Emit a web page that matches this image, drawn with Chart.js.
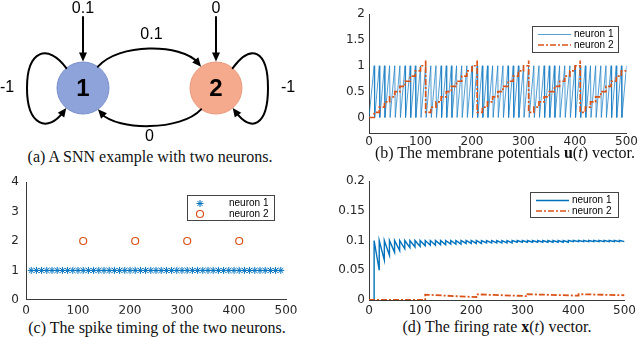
<!DOCTYPE html>
<html>
<head>
<meta charset="utf-8">
<script src="https://cdn.jsdelivr.net/npm/chart.js@4.4.1/dist/chart.umd.min.js"></script>
<style>
  body { margin: 0; background: #fff; }
  #fig { position: relative; width: 640px; height: 337px; overflow: hidden; }
  canvas { position: absolute; }
  .cap { position: absolute; width: 320px; text-align: center; white-space: nowrap;
         font-family: "Liberation Serif", serif; font-size: 16px; line-height: 18px; color: #111; }
</style>
</head>
<body>
<div id="fig">
  <canvas id="diagram" width="320" height="146" style="left:0;top:0"></canvas>
  <canvas id="membrane" width="320" height="146" style="left:320px;top:0"></canvas>
  <canvas id="spikes" width="320" height="146" style="left:0;top:168px"></canvas>
  <canvas id="rate" width="320" height="146" style="left:320px;top:168px"></canvas>
  <div class="cap" style="left:-10px;top:148px">(a) A SNN example with two neurons.</div>
  <div class="cap" style="left:345px;top:144px">(b) The membrane potentials <b>u</b>(<i>t</i>) vector.</div>
  <div class="cap" style="left:-3px;top:319px">(c) The spike timing of the two neurons.</div>
  <div class="cap" style="left:337px;top:318px">(d) The firing rate <b>x</b>(<i>t</i>) vector.</div>
</div>
<script>
// ---- data ----
// diagram (a)
const nodeLabels = ["1", "2"];
const nodeX = [1, 2];
const nodeColors = ["#8fa3db", "#f5a98d"];
const inputWeights = ["0.1", "0"];
const edgeWeights = { w12: "0.1", w21: "0", w11: "-1", w22: "-1" };

// spike times (c)
const neuron1Spikes = [10, 20, 30, 40, 50, 60, 70, 80, 90, 100, 110, 120, 130, 140, 150, 160, 170, 180, 190, 200,
  210, 220, 230, 240, 250, 260, 270, 280, 290, 300, 310, 320, 330, 340, 350, 360, 370, 380, 390, 400,
  410, 420, 430, 440, 450, 460, 470, 480, 490];
const neuron2Spikes = [110, 210, 310, 410];

// membrane potentials (b)
const u1Reset = 0;
const u1Peak = 1;
const neuron2Potential = [
  [0, 0], [10, 0.1], [20, 0.2], [30, 0.3], [40, 0.4], [50, 0.5], [60, 0.6], [70, 0.7], [80, 0.8], [90, 0.9], [100, 1], [110, 1.1],
  [110, 0.1], [120, 0.2], [130, 0.3], [140, 0.4], [150, 0.5], [160, 0.6], [170, 0.7], [180, 0.8], [190, 0.9], [200, 1], [210, 1.1],
  [210, 0.1], [220, 0.2], [230, 0.3], [240, 0.4], [250, 0.5], [260, 0.6], [270, 0.7], [280, 0.8], [290, 0.9], [300, 1], [310, 1.1],
  [310, 0.1], [320, 0.2], [330, 0.3], [340, 0.4], [350, 0.5], [360, 0.6], [370, 0.7], [380, 0.8], [390, 0.9], [400, 1], [410, 1.1],
  [410, 0.1], [420, 0.2], [430, 0.3], [440, 0.4], [450, 0.5], [460, 0.6], [470, 0.7], [480, 0.8], [490, 0.9], [500, 0.9]
];

// firing rates (d)
const rate1Peak = 0.1;
const rate1Troughs = [0.05, 0.067, 0.075, 0.08, 0.083, 0.086, 0.088, 0.089, 0.09, 0.091, 0.092, 0.092, 0.093, 0.093,
  0.094, 0.094, 0.094, 0.095, 0.095, 0.095, 0.095, 0.096, 0.096, 0.096, 0.096, 0.096, 0.096, 0.097, 0.097, 0.097,
  0.097, 0.097, 0.097, 0.097, 0.097, 0.097, 0.097, 0.097, 0.098, 0.098, 0.098, 0.098, 0.098, 0.098, 0.098, 0.098,
  0.098, 0.098, 0.098];
const rate2Peaks = [0.009, 0.0095, 0.0097, 0.0098];
const rate2Troughs = [0.0048, 0.0065, 0.0073, 0.008];

const seriesNames = ["neuron 1", "neuron 2"];
const xTicks = [0, 100, 200, 300, 400, 500];
const yTicksB = [0, 0.5, 1, 1.5, 2];
const yTicksC = [0, 1, 2, 3, 4];
const yTicksD = [0, 0.05, 0.1, 0.15, 0.2];

const BLUE = "#0072BD";
const RED = "#D95319";
const AXIS = "#3a3a3a";
const TICK_FONT = { family: "DejaVu Sans", size: 12 };
const DASHDOT = [6, 2, 2, 2];

// ---- build point lists ----
const u1Points = [{ x: 0, y: u1Reset }];
neuron1Spikes.forEach(t => { u1Points.push({ x: t, y: u1Peak }, { x: t + 1, y: u1Reset }); });
u1Points.push({ x: 500, y: u1Peak });
const u2Points = neuron2Potential.map(p => ({ x: p[0], y: p[1] }));

const r1Points = [{ x: 0, y: 0 }, { x: neuron1Spikes[0], y: 0 }];
neuron1Spikes.forEach((t, i) => {
  const next = i + 1 < neuron1Spikes.length ? neuron1Spikes[i + 1] : 500;
  r1Points.push({ x: t, y: rate1Peak }, { x: next, y: rate1Troughs[i] });
});
const r2Points = [{ x: 0, y: 0 }, { x: neuron2Spikes[0], y: 0 }];
neuron2Spikes.forEach((t, i) => {
  const next = i + 1 < neuron2Spikes.length ? neuron2Spikes[i + 1] : 500;
  r2Points.push({ x: t, y: rate2Peaks[i] }, { x: next, y: rate2Troughs[i] });
});

// ---- legend box inside the axes ----
const boxLegend = {
  id: "boxLegend",
  afterDraw(chart) {
    const o = chart.config.options.plugins.boxLegend;
    if (!o) return;
    const ctx = chart.ctx, a = chart.chartArea;
    const x = Math.round(a.left + o.dx), y = Math.round(a.top + o.dy);
    ctx.save();
    ctx.fillStyle = "#fff";
    ctx.fillRect(x, y, o.w, o.h);
    ctx.strokeStyle = "#444";
    ctx.lineWidth = 1;
    ctx.strokeRect(x + 0.5, y + 0.5, o.w, o.h);
    chart.data.datasets.forEach((ds, i) => {
      const ry = y + 8.5 + i * 10.5;
      if (ds.showLine === false) {
        ctx.strokeStyle = ds.pointBorderColor;
        ctx.fillStyle = ds.pointBackgroundColor;
        ctx.lineWidth = ds.pointBorderWidth;
        Chart.helpers.drawPoint(ctx, { pointStyle: ds.pointStyle, radius: ds.pointRadius, borderWidth: ds.pointBorderWidth, rotation: 0 }, x + 13, ry);
      } else {
        ctx.strokeStyle = ds.borderColor;
        ctx.lineWidth = Math.min(ds.borderWidth, 1.4);
        ctx.setLineDash(ds.borderDash || []);
        ctx.beginPath();
        ctx.moveTo(x + 6, ry);
        ctx.lineTo(x + 39, ry);
        ctx.stroke();
        ctx.setLineDash([]);
      }
      ctx.fillStyle = "#000";
      ctx.font = "10px 'Liberation Sans'";
      ctx.textBaseline = "middle";
      ctx.fillText(ds.label, x + 42, ry);
    });
    ctx.restore();
  }
};

function makePlot(id, datasets, o) {
  return new Chart(document.getElementById(id), {
    type: "line",
    data: { datasets },
    options: {
      responsive: false,
      animation: false,
      events: [],
      layout: { autoPadding: false, padding: { top: o.padTop, right: o.padRight, left: 0, bottom: 0 } },
      plugins: { legend: { display: false }, tooltip: { enabled: false }, boxLegend: o.legend },
      scales: {
        x: {
          type: "linear", min: 0, max: 500,
          grid: { display: false, drawTicks: false },
          border: { color: AXIS, width: 1 },
          ticks: { font: TICK_FONT, color: "#262626", padding: o.xPad, maxRotation: 0, autoSkip: false },
          afterBuildTicks: s => { s.ticks = xTicks.map(v => ({ value: v })); },
          afterFit: s => { s.height = o.xAxisH; }
        },
        y: {
          type: "linear", min: o.yMin, max: o.yMax,
          grid: { display: false, drawTicks: false },
          border: { color: AXIS, width: 1 },
          ticks: { font: TICK_FONT, color: "#262626", padding: o.yPad, callback: v => String(v) },
          afterBuildTicks: s => { s.ticks = o.yTicks.map(v => ({ value: v })); },
          afterFit: s => { s.width = o.yAxisW; }
        }
      }
    },
    plugins: [boxLegend]
  });
}

// (b) membrane potentials — neuron 2 drawn on top
makePlot("membrane", [
  { label: seriesNames[0], data: u1Points, borderColor: "#1a7ec4", borderWidth: 0.75, pointRadius: 0, order: 2 },
  { label: seriesNames[1], data: u2Points, borderColor: RED, borderWidth: 1.7, borderDash: DASHDOT, stepped: "before", pointRadius: 0, order: 1 }
], { padTop: 14, padRight: 10, yAxisW: 49, xAxisH: 13, yMin: -0.3, yMax: 2, yTicks: yTicksB, xPad: 2, yPad: 4,
     legend: { dx: 163, dy: 12, w: 86, h: 26 } });

// (c) spike timing
makePlot("spikes", [
  { label: seriesNames[0], data: neuron1Spikes.map(t => ({ x: t, y: 1 })), showLine: false,
    pointStyle: "star", pointRadius: 3.5, pointBorderColor: BLUE, pointBackgroundColor: BLUE, pointBorderWidth: 1 },
  { label: seriesNames[1], data: neuron2Spikes.map(t => ({ x: t, y: 2 })), showLine: false,
    pointStyle: "circle", pointRadius: 3.5, pointBorderColor: RED, pointBackgroundColor: "rgba(0,0,0,0)", pointBorderWidth: 1.2 }
], { padTop: 12, padRight: 34, yAxisW: 26, xAxisH: 14, yMin: 0, yMax: 4, yTicks: yTicksC, xPad: 4, yPad: 7,
     legend: { dx: 161, dy: 13, w: 87, h: 25 } });

// (d) firing rate
makePlot("rate", [
  { label: seriesNames[0], data: r1Points, borderColor: BLUE, borderWidth: 1.4, pointRadius: 0, order: 2 },
  { label: seriesNames[1], data: r2Points, borderColor: RED, borderWidth: 1.8, borderDash: DASHDOT, pointRadius: 0, order: 1 }
], { padTop: 13, padRight: 11, yAxisW: 49, xAxisH: 14, yMin: 0, yMax: 0.2, yTicks: yTicksD, xPad: 4, yPad: 4,
     legend: { dx: 161, dy: 11, w: 88, h: 25 } });

// (a) network diagram: two nodes on a hidden bubble chart, edges drawn by a plugin
function arrowHead(ctx, tx, ty, fx, fy) {
  const ang = Math.atan2(ty - fy, tx - fx), len = 9, half = 4;
  ctx.beginPath();
  ctx.moveTo(tx, ty);
  ctx.lineTo(tx - len * Math.cos(ang) + half * Math.sin(ang), ty - len * Math.sin(ang) - half * Math.cos(ang));
  ctx.lineTo(tx - len * Math.cos(ang) - half * Math.sin(ang), ty - len * Math.sin(ang) + half * Math.cos(ang));
  ctx.closePath();
  ctx.fill();
}
function onCircle(c, R, deg) {
  const r = deg * Math.PI / 180;
  return [c.x + R * Math.cos(r), c.y + R * Math.sin(r)];
}
const edges = {
  id: "edges",
  afterDatasetsDraw(chart) {
    const ctx = chart.ctx;
    const pts = chart.getDatasetMeta(0).data;
    const n1 = pts[0], n2 = pts[1];
    const R = pts[0].options.radius;
    ctx.save();
    ctx.strokeStyle = "#000";
    ctx.fillStyle = "#000";
    ctx.lineWidth = 2;
    ctx.lineCap = "round";

    // inputs from above
    [n1, n2].forEach(n => {
      ctx.beginPath();
      ctx.moveTo(n.x, n.y - 71);
      ctx.lineTo(n.x, n.y - R - 7);
      ctx.stroke();
      arrowHead(ctx, n.x, n.y - R - 0.5, n.x, n.y - 71);
    });

    // 1 -> 2 (top arc)
    let s = onCircle(n1, R, -55), e = onCircle(n2, R, -125);
    let c1 = [n1.x + 35, n1.y - 45], c2 = [n2.x - 35, n2.y - 45];
    ctx.beginPath(); ctx.moveTo(s[0], s[1]);
    ctx.bezierCurveTo(c1[0], c1[1], c2[0], c2[1], e[0] - 3, e[1] - 4); ctx.stroke();
    arrowHead(ctx, e[0], e[1], c2[0], c2[1]);

    // 2 -> 1 (bottom arc)
    s = onCircle(n2, R, 125); e = onCircle(n1, R, 55);
    c1 = [n2.x - 35, n2.y + 43]; c2 = [n1.x + 35, n1.y + 43];
    ctx.beginPath(); ctx.moveTo(s[0], s[1]);
    ctx.bezierCurveTo(c1[0], c1[1], c2[0], c2[1], e[0] + 3, e[1] + 4); ctx.stroke();
    arrowHead(ctx, e[0], e[1], c2[0], c2[1]);

    // self loops
    [[n1, -1, 56], [n2, 1, 52]].forEach(([n, dir, ext]) => {
      const a0 = onCircle(n, R, dir < 0 ? -130 : -50);
      const a1 = onCircle(n, R, dir < 0 ? 130 : 50);
      const fx = n.x + dir * ext;
      ctx.beginPath();
      ctx.moveTo(a0[0], a0[1]);
      ctx.bezierCurveTo(n.x + dir * 35, n.y - 45, fx, n.y - 38, fx, n.y);
      ctx.bezierCurveTo(fx, n.y + 38, n.x + dir * 35, n.y + 45, a1[0] + dir * 3, a1[1] + 4);
      ctx.stroke();
      arrowHead(ctx, a1[0], a1[1], n.x + dir * 35, n.y + 45);
    });

    // texts
    ctx.textAlign = "center";
    ctx.textBaseline = "middle";
    ctx.font = "16px 'Liberation Sans'";
    ctx.fillText(inputWeights[0], n1.x, n1.y - 79);
    ctx.fillText(inputWeights[1], n2.x, n2.y - 79);
    const mx = (n1.x + n2.x) / 2;
    ctx.fillText(edgeWeights.w12, mx + 2, n1.y - 53);
    ctx.fillText(edgeWeights.w21, mx, n1.y + 49);
    ctx.fillText(edgeWeights.w11, n1.x - 76, n1.y);
    ctx.fillText(edgeWeights.w22, n2.x + 72, n2.y);
    ctx.font = "bold 24px 'Liberation Sans'";
    nodeLabels.forEach((t, i) => ctx.fillText(t, pts[i].x, pts[i].y + 1));
    ctx.restore();
  }
};

new Chart(document.getElementById("diagram"), {
  type: "bubble",
  data: {
    datasets: [{
      data: nodeX.map(x => ({ x: x, y: 0, r: 26 })),
      backgroundColor: nodeColors,
      borderColor: ["#7b90cc", "#e99a7c"],
      borderWidth: 1
    }]
  },
  options: {
    responsive: false,
    animation: false,
    events: [],
    layout: { autoPadding: false, padding: 0 },
    plugins: { legend: { display: false }, tooltip: { enabled: false } },
    scales: {
      x: { type: "linear", display: false, min: 0.376, max: 2.782 },
      y: { type: "linear", display: false, min: -0.436, max: 0.662 }
    }
  },
  plugins: [edges]
});
</script>
</body>
</html>
